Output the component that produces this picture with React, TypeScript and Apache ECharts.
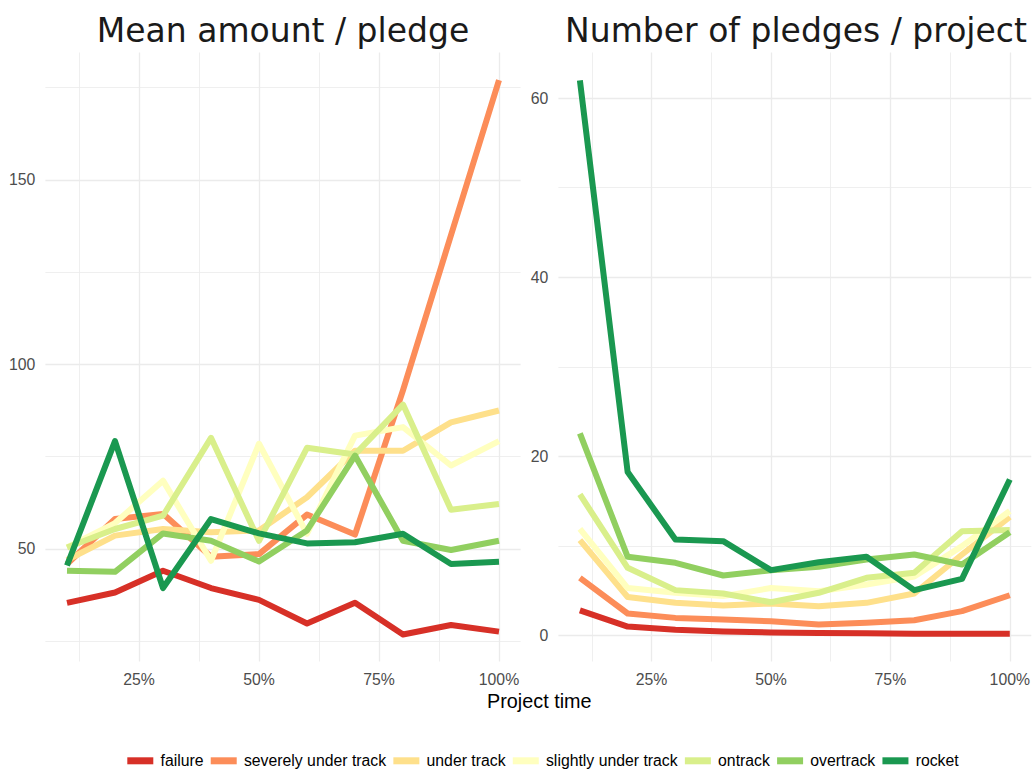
import React, { useEffect, useRef } from 'react';
import * as echarts from 'echarts';

const timePoints = [0.1, 0.2, 0.3, 0.4, 0.5, 0.6, 0.7, 0.8, 0.9, 1.0];
const categories = ['failure', 'severely under track', 'under track', 'slightly under track', 'ontrack', 'overtrack', 'rocket'];
const colors = ['#D73027', '#FC8D59', '#FEE08B', '#FFFFBF', '#D9EF8B', '#91CF60', '#1A9850'];
const panelTitles = ['Mean amount / pledge', 'Number of pledges / project'];
const xAxisTitle = 'Project time';

// Mean amount / pledge
const meanFailure = [35.4, 38.2, 44.1, 39.4, 36.2, 29.8, 35.4, 26.8, 29.4, 27.6];
const meanSevere = [45.9, 58.1, 59.5, 47.9, 48.6, 59.3, 53.9, 93.0, 135.0, 177.0];
const meanUnder = [47.0, 53.6, 55.4, 54.5, 55.0, 64.0, 76.6, 76.6, 84.3, 87.5];
const meanSlightly = [50.4, 57.0, 68.5, 46.8, 78.5, 54.1, 80.7, 83.0, 72.6, 79.2];
const meanOntrack = [50.4, 55.4, 59.0, 80.1, 52.2, 77.4, 75.6, 89.1, 60.6, 62.2];
const meanOvertrack = [44.1, 43.8, 54.2, 52.2, 46.6, 55.0, 75.3, 52.2, 49.7, 52.2];
const meanRocket = [45.5, 79.2, 39.4, 58.1, 54.2, 51.5, 51.8, 54.1, 45.9, 46.5];

// Number of pledges / project
const countFailure = [2.8, 1.0, 0.65, 0.45, 0.35, 0.28, 0.25, 0.2, 0.2, 0.2];
const countSevere = [6.44, 2.46, 1.97, 1.79, 1.6, 1.23, 1.42, 1.71, 2.72, 4.5];
const countUnder = [10.65, 4.3, 3.65, 3.35, 3.58, 3.28, 3.65, 4.69, 9.05, 13.26];
const countSlightly = [11.9, 5.3, 4.77, 4.4, 5.3, 4.95, 5.7, 6.6, 9.98, 13.9];
const countOntrack = [15.75, 7.56, 5.07, 4.69, 3.72, 4.77, 6.44, 7.0, 11.65, 11.77];
const countOvertrack = [22.57, 8.79, 8.12, 6.7, 7.3, 7.67, 8.49, 9.05, 7.93, 11.54];
const countRocket = [62.0, 18.25, 10.73, 10.54, 7.3, 8.19, 8.79, 5.07, 6.33, 17.43];

const meanSeries = [meanFailure, meanSevere, meanUnder, meanSlightly, meanOntrack, meanOvertrack, meanRocket];
const countSeries = [countFailure, countSevere, countUnder, countSlightly, countOntrack, countOvertrack, countRocket];

const GRID_TOP = 52.5;
const GRID_H = 609;
const LABEL_SIZE = 15.8;

function isMultiple(v: number, step: number) {
  const r = v / step;
  return Math.abs(r - Math.round(r)) < 1e-6;
}

function makeXAxis(gridIndex: number) {
  return {
    type: 'value',
    gridIndex,
    min: 0.055,
    max: 1.045,
    minInterval: 0.25,
    maxInterval: 0.25,
    axisLine: { show: false },
    axisTick: { show: false },
    axisLabel: {
      showMinLabel: false,
      showMaxLabel: false,
      margin: 10,
      fontSize: LABEL_SIZE,
      fontFamily: 'Liberation Sans',
      color: '#4D4D4D',
      formatter: (v: number) => (isMultiple(v, 0.25) ? Math.round(v * 100) + '%' : ''),
    },
    splitLine: { show: true, showMinLine: false, showMaxLine: false, lineStyle: { color: '#EBEBEB', width: 1.3 } },
    minorTick: { show: false, splitNumber: 2 },
    minorSplitLine: { show: true, lineStyle: { color: '#EBEBEB', width: 0.8 } },
  };
}

function makeYAxis(gridIndex: number, min: number, max: number, step: number) {
  return {
    type: 'value',
    gridIndex,
    min,
    max,
    minInterval: step,
    maxInterval: step,
    axisLine: { show: false },
    axisTick: { show: false },
    axisLabel: {
      showMinLabel: false,
      showMaxLabel: false,
      margin: 10,
      fontSize: LABEL_SIZE,
      fontFamily: 'Liberation Sans',
      color: '#4D4D4D',
      formatter: (v: number) => (isMultiple(v, step) ? String(Math.round(v)) : ''),
    },
    splitLine: { show: true, showMinLine: false, showMaxLine: false, lineStyle: { color: '#EBEBEB', width: 1.3 } },
    minorTick: { show: false, splitNumber: 2 },
    minorSplitLine: { show: true, lineStyle: { color: '#EBEBEB', width: 0.8 } },
  };
}

export default function App() {
  const ref = useRef<HTMLDivElement>(null);

  useEffect(() => {
    if (!ref.current) return;
    const chart = echarts.init(ref.current, undefined, { renderer: 'svg' });

    const series: any[] = [];
    const addPanel = (values: number[][], axisIndex: number) => {
      categories.forEach((name, i) => {
        series.push({
          name,
          type: 'line',
          xAxisIndex: axisIndex,
          yAxisIndex: axisIndex,
          data: timePoints.map((t, j) => [t, values[i][j]]),
          showSymbol: false,
          symbol: 'none',
          color: colors[i],
          itemStyle: { color: colors[i] },
          lineStyle: { color: colors[i], width: 6, cap: 'butt', join: 'round' },
          emphasis: { disabled: true },
          silent: true,
        });
      });
    };
    addPanel(meanSeries, 0);
    addPanel(countSeries, 1);

    chart.setOption({
      animation: false,
      backgroundColor: '#FFFFFF',
      grid: [
        { left: 45.4, top: GRID_TOP, width: 475.2, height: GRID_H },
        { left: 558.4, top: GRID_TOP, width: 475.2, height: GRID_H },
      ],
      xAxis: [makeXAxis(0), makeXAxis(1)],
      yAxis: [makeYAxis(0, 19.5, 184.5, 50), makeYAxis(1, -2.9, 65.1, 20)],
      legend: {
        data: categories,
        left: 127.3,
        top: 752.8,
        padding: 0,
        icon: 'rect',
        itemWidth: 26,
        itemHeight: 7,
        itemGap: 7.2,
        selectedMode: false,
        itemStyle: { borderWidth: 0 },
        lineStyle: { width: 0 },
        textStyle: {
          fontSize: 15.8,
          lineHeight: 16,
          fontFamily: 'Liberation Sans',
          color: '#000000',
          padding: [0, 0, 0, 2.2],
        },
      },
      graphic: [
        {
          type: 'text',
          x: 283,
          y: 30.8,
          silent: true,
          style: {
            text: panelTitles[0],
            fontSize: 33,
            fontFamily: 'DejaVu Sans',
            fill: '#1A1A1A',
            align: 'center',
            verticalAlign: 'middle',
          },
        },
        {
          type: 'text',
          x: 796,
          y: 30.8,
          silent: true,
          style: {
            text: panelTitles[1],
            fontSize: 33,
            fontFamily: 'DejaVu Sans',
            fill: '#1A1A1A',
            align: 'center',
            verticalAlign: 'middle',
          },
        },
        {
          type: 'text',
          x: 539.3,
          y: 700.5,
          silent: true,
          style: {
            text: xAxisTitle,
            fontSize: 19.8,
            fontFamily: 'Liberation Sans',
            fill: '#000000',
            align: 'center',
            verticalAlign: 'middle',
          },
        },
      ],
      series,
    });

    return () => {
      chart.dispose();
    };
  }, []);

  return (
    <div
      ref={ref}
      style={{ position: 'fixed', left: 0, top: 0, width: 1033, height: 769, background: '#FFFFFF' }}
    />
  );
}
